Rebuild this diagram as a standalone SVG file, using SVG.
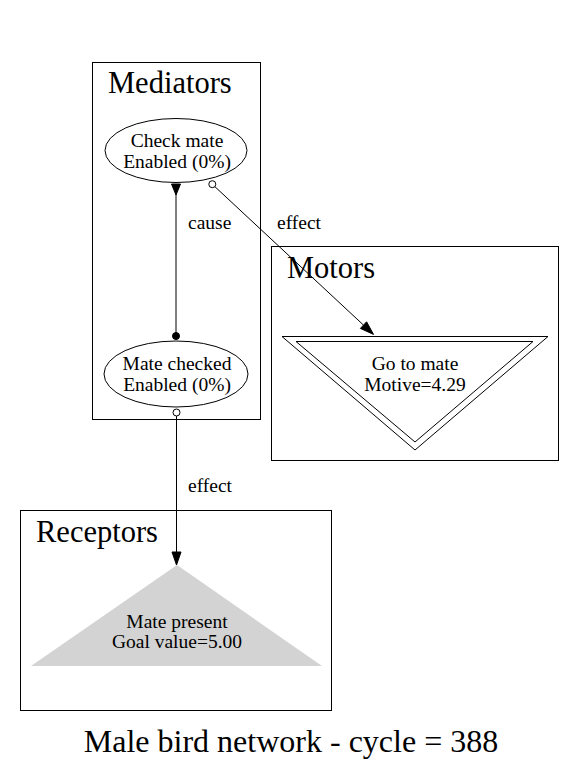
<svg xmlns="http://www.w3.org/2000/svg" width="577" height="774" viewBox="0 0 577 774">
<style>
text{font-family:"Liberation Serif","Times New Roman",serif;fill:#000}
.t{font-size:30.5px}
.n{font-size:19.5px;text-anchor:middle}
.l{font-size:19.5px}
.box{fill:none;stroke:#000;stroke-width:1}
.e{fill:none;stroke:#000;stroke-width:1}
.ah{fill:#000;stroke:#000;stroke-width:1}
.od{fill:#fff;stroke:#000;stroke-width:1}
</style>
<rect width="577" height="774" fill="#fff"/>
<g id="cluster-mediators">
<rect class="box" x="92.5" y="62.5" width="168" height="357"/>
<text class="t" x="108" y="93">Mediators</text>
</g>
<g id="cluster-motors">
<rect class="box" x="271.5" y="246.5" width="287" height="214"/>
<text class="t" x="287" y="278">Motors</text>
</g>
<g id="cluster-receptors">
<rect class="box" x="20.5" y="510.5" width="311" height="200"/>
<text class="t" x="36" y="542">Receptors</text>
</g>
<g id="node-checkmate">
<ellipse cx="176" cy="150.5" rx="71" ry="32" fill="none" stroke="#000"/>
<text class="n" x="177" y="147">Check mate</text>
<text class="n" x="177" y="168">Enabled (0%)</text>
</g>
<g id="node-matechecked">
<ellipse cx="176" cy="374" rx="72" ry="33" fill="none" stroke="#000"/>
<text class="n" x="177" y="370">Mate checked</text>
<text class="n" x="177" y="391">Enabled (0%)</text>
</g>
<g id="node-gotomate">
<polygon points="282,336.5 548,336.5 415,450" fill="none" stroke="#000"/>
<polygon points="296,341.5 533,341.5 415,442" fill="none" stroke="#000"/>
<text class="n" x="415" y="370">Go to mate</text>
<text class="n" x="415" y="391">Motive=4.29</text>
</g>
<g id="node-matepresent">
<polygon points="177,565 31,666 322,666" fill="#d3d3d3"/>
<text class="n" x="177" y="628">Mate present</text>
<text class="n" x="177" y="648">Goal value=5.00</text>
</g>
<g id="connectors">
<line class="e" x1="176" y1="184" x2="176" y2="333"/>
<polygon class="ah" points="171.5,184 180.5,184 176,195"/>
<circle cx="176" cy="336" r="3.5" fill="#000" stroke="#000"/>
<text class="l" x="188" y="229">cause</text>
<line class="e" x1="214.6" y1="186.4" x2="363.5" y2="325.1"/>
<circle class="od" cx="212.3" cy="184.2" r="3.5"/>
<polygon class="ah" points="360.4,328.4 366.6,321.8 373.5,334.4"/>
<text class="l" x="277" y="229">effect</text>
<line class="e" x1="176.5" y1="416" x2="176.5" y2="552"/>
<circle class="od" cx="176.5" cy="412.5" r="3.5"/>
<polygon class="ah" points="172,552 181,552 176.5,565"/>
<text class="l" x="188" y="492">effect</text>
</g>
<text x="291" y="752" font-size="32" text-anchor="middle">Male bird network - cycle = 388</text>
</svg>
